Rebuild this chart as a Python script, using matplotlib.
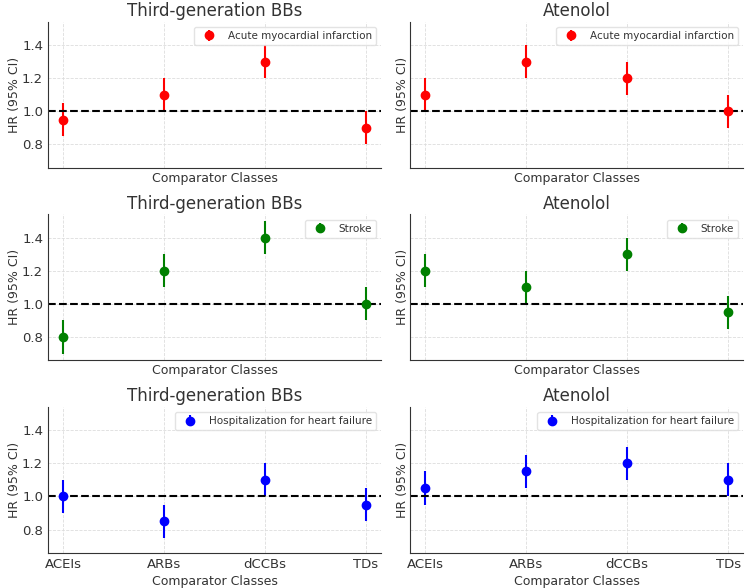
import matplotlib.pyplot as plt

comparators = ["ACEIs", "ARBs", "dCCBs", "TDs"]
groups = ["Third-generation BBs", "Atenolol"]
outcomes = ["Acute myocardial infarction", "Stroke", "Hospitalization for heart failure"]
colors = ["red", "green", "blue"]

# hazard ratios per outcome, per group (third-gen, atenolol)
hr_ami = [[0.95, 1.10, 1.30, 0.90], [1.10, 1.30, 1.20, 1.00]]
hr_stroke = [[0.80, 1.20, 1.40, 1.00], [1.20, 1.10, 1.30, 0.95]]
hr_hf = [[1.00, 0.85, 1.10, 0.95], [1.05, 1.15, 1.20, 1.10]]
ci_half = 0.1  # symmetric 95% CI half-width

hr_all = [hr_ami, hr_stroke, hr_hf]

text_color = "#333333"
plt.rcParams.update({
    "font.family": "DejaVu Sans",
    "text.color": text_color,
    "axes.labelcolor": text_color,
    "xtick.color": text_color,
    "ytick.color": text_color,
    "axes.edgecolor": "#333333",
})

fig, axes = plt.subplots(3, 2, figsize=(7.5, 5.88), sharex=True, sharey=True)

for i, outcome in enumerate(outcomes):
    for j, group in enumerate(groups):
        ax = axes[i, j]
        ax.errorbar(comparators, hr_all[i][j], yerr=ci_half, fmt="o",
                    color=colors[i], ecolor=colors[i], elinewidth=1.5,
                    markersize=6, label=outcome)
        ax.axhline(1.0, color="black", linestyle="--", linewidth=1.5)
        ax.set_title(group, fontsize=12, color=text_color, pad=4)
        ax.set_xlabel("Comparator Classes", fontsize=9, labelpad=3)
        ax.set_ylabel("HR (95% CI)", fontsize=9, labelpad=1)
        ax.grid(True, linestyle="--", linewidth=0.6, color="#dddddd")
        ax.tick_params(length=0, labelsize=9.5)
        ax.spines["top"].set_visible(False)
        ax.spines["right"].set_visible(False)
        ax.legend(loc="upper right", fontsize=7.5, frameon=True,
                  edgecolor="#dddddd")
        ax.xaxis.set_tick_params(labelbottom=(i == 2))

fig.subplots_adjust(left=0.064, right=0.991, top=0.963, bottom=0.06,
                    wspace=0.087, hspace=0.32)
fig.savefig("out.png", dpi=100)
